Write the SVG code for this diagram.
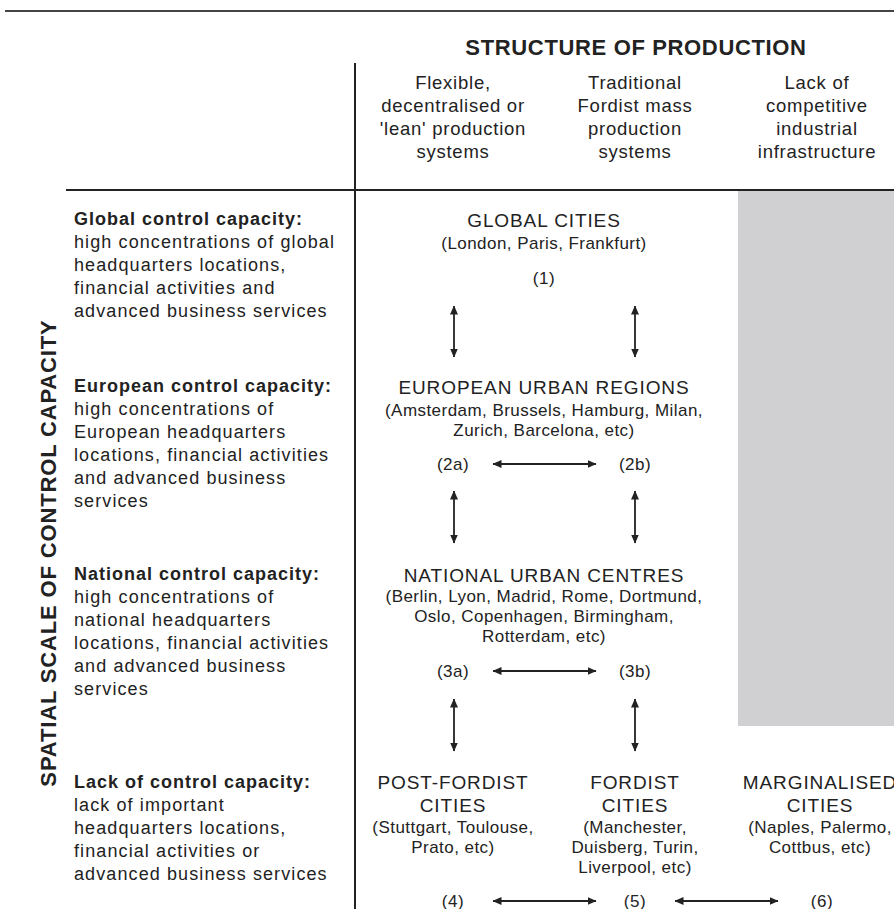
<svg xmlns="http://www.w3.org/2000/svg" width="894" height="909" viewBox="0 0 894 909">
<style>
text{font-family:"Liberation Sans",Arial,sans-serif;fill:#222;}
.h{font-size:22px;font-weight:bold;text-anchor:middle;letter-spacing:0.65px;}
.v{font-size:22px;font-weight:bold;text-anchor:middle;letter-spacing:0.85px;}
.col{font-size:18.5px;text-anchor:middle;letter-spacing:0.75px;}
.lt{font-size:18px;letter-spacing:1.1px;}
.lb{font-size:18px;font-weight:bold;letter-spacing:1px;}
.cn{font-size:19px;text-anchor:middle;letter-spacing:0.9px;}
.cs{font-size:17px;text-anchor:middle;letter-spacing:0.45px;}
.num{font-size:17px;text-anchor:middle;letter-spacing:0.5px;}
.ln{stroke:#222;stroke-width:2;fill:none;}
.ar{stroke:#222;stroke-width:1.8;fill:none;marker-start:url(#a);marker-end:url(#a);}
</style>
<defs>
<marker id="a" viewBox="0 0 9 8" refX="8.5" refY="4" markerWidth="9" markerHeight="8" orient="auto-start-reverse" markerUnits="userSpaceOnUse">
<path d="M0,0 L9,4 L0,8 z" fill="#222"/>
</marker>
</defs>
<rect x="0" y="0" width="894" height="909" fill="#fff"/>
<g id="frame">
<line x1="5" y1="11" x2="894" y2="11" stroke="#444" stroke-width="2"/>
<line class="ln" x1="355" y1="63" x2="355" y2="909"/>
<line class="ln" x1="66" y1="190" x2="894" y2="190"/>
<rect x="738" y="191" width="156" height="535" fill="#d0d0d2"/>
</g>
<g id="header">
<text class="h" x="636" y="55">STRUCTURE OF PRODUCTION</text>
<text class="col" x="453" y="89">Flexible,</text>
<text class="col" x="453" y="112">decentralised or</text>
<text class="col" x="453" y="135">'lean' production</text>
<text class="col" x="453" y="158">systems</text>
<text class="col" x="635" y="89">Traditional</text>
<text class="col" x="635" y="112">Fordist mass</text>
<text class="col" x="635" y="135">production</text>
<text class="col" x="635" y="158">systems</text>
<text class="col" x="817" y="89">Lack of</text>
<text class="col" x="817" y="112">competitive</text>
<text class="col" x="817" y="135">industrial</text>
<text class="col" x="817" y="158">infrastructure</text>
<text class="v" transform="translate(56,553) rotate(-90)">SPATIAL SCALE OF CONTROL CAPACITY</text>
</g>
<g id="row-global">
<text class="lb" x="74" y="225">Global control capacity:</text>
<text class="lt" x="74" y="248">high concentrations of global</text>
<text class="lt" x="74" y="271">headquarters locations,</text>
<text class="lt" x="74" y="294">financial activities and</text>
<text class="lt" x="74" y="317">advanced business services</text>
</g>
<g id="row-european">
<text class="lb" x="74" y="392">European control capacity:</text>
<text class="lt" x="74" y="415">high concentrations of</text>
<text class="lt" x="74" y="438">European headquarters</text>
<text class="lt" x="74" y="461">locations, financial activities</text>
<text class="lt" x="74" y="484">and advanced business</text>
<text class="lt" x="74" y="507">services</text>
</g>
<g id="row-national">
<text class="lb" x="74" y="580">National control capacity:</text>
<text class="lt" x="74" y="603">high concentrations of</text>
<text class="lt" x="74" y="626">national headquarters</text>
<text class="lt" x="74" y="649">locations, financial activities</text>
<text class="lt" x="74" y="672">and advanced business</text>
<text class="lt" x="74" y="695">services</text>
</g>
<g id="row-lack">
<text class="lb" x="74" y="788">Lack of control capacity:</text>
<text class="lt" x="74" y="811">lack of important</text>
<text class="lt" x="74" y="834">headquarters locations,</text>
<text class="lt" x="74" y="857">financial activities or</text>
<text class="lt" x="74" y="880">advanced business services</text>
</g>
<g id="n1">
<text class="cn" x="544" y="227">GLOBAL CITIES</text>
<text class="cs" x="544" y="249">(London, Paris, Frankfurt)</text>
<text class="num" x="544" y="284">(1)</text>
</g>
<g id="n2">
<text class="cn" x="544" y="394">EUROPEAN URBAN REGIONS</text>
<text class="cs" x="544" y="416">(Amsterdam, Brussels, Hamburg, Milan,</text>
<text class="cs" x="544" y="436">Zurich, Barcelona, etc)</text>
</g>
<g id="n2a"><text class="num" x="453" y="470">(2a)</text></g>
<g id="n2b"><text class="num" x="635" y="470">(2b)</text></g>
<g id="n3">
<text class="cn" x="544" y="582">NATIONAL URBAN CENTRES</text>
<text class="cs" x="544" y="602">(Berlin, Lyon, Madrid, Rome, Dortmund,</text>
<text class="cs" x="544" y="622">Oslo, Copenhagen, Birmingham,</text>
<text class="cs" x="544" y="642">Rotterdam, etc)</text>
</g>
<g id="n3a"><text class="num" x="453" y="677">(3a)</text></g>
<g id="n3b"><text class="num" x="635" y="677">(3b)</text></g>
<g id="n4">
<text class="cn" x="453" y="789">POST-FORDIST</text>
<text class="cn" x="453" y="812">CITIES</text>
<text class="cs" x="453" y="833">(Stuttgart, Toulouse,</text>
<text class="cs" x="453" y="853">Prato, etc)</text>
<text class="num" x="453" y="907">(4)</text>
</g>
<g id="n5">
<text class="cn" x="635" y="789">FORDIST</text>
<text class="cn" x="635" y="812">CITIES</text>
<text class="cs" x="635" y="833">(Manchester,</text>
<text class="cs" x="635" y="853">Duisberg, Turin,</text>
<text class="cs" x="635" y="873">Liverpool, etc)</text>
<text class="num" x="635" y="907">(5)</text>
</g>
<g id="n6">
<text class="cn" x="820" y="789">MARGINALISED</text>
<text class="cn" x="820" y="812">CITIES</text>
<text class="cs" x="820" y="833">(Naples, Palermo,</text>
<text class="cs" x="820" y="853">Cottbus, etc)</text>
<text class="num" x="822" y="907">(6)</text>
</g>
<g id="connectors">
<line class="ar" x1="454" y1="306" x2="454" y2="357"/>
<line class="ar" x1="635" y1="306" x2="635" y2="357"/>
<line class="ar" x1="493" y1="464" x2="596" y2="464"/>
<line class="ar" x1="454" y1="491" x2="454" y2="543"/>
<line class="ar" x1="635" y1="491" x2="635" y2="543"/>
<line class="ar" x1="493" y1="671" x2="596" y2="671"/>
<line class="ar" x1="454" y1="699" x2="454" y2="751"/>
<line class="ar" x1="635" y1="699" x2="635" y2="751"/>
<line class="ar" x1="493" y1="901" x2="596" y2="901"/>
<line class="ar" x1="675" y1="901" x2="778" y2="901"/>
</g>
</svg>
